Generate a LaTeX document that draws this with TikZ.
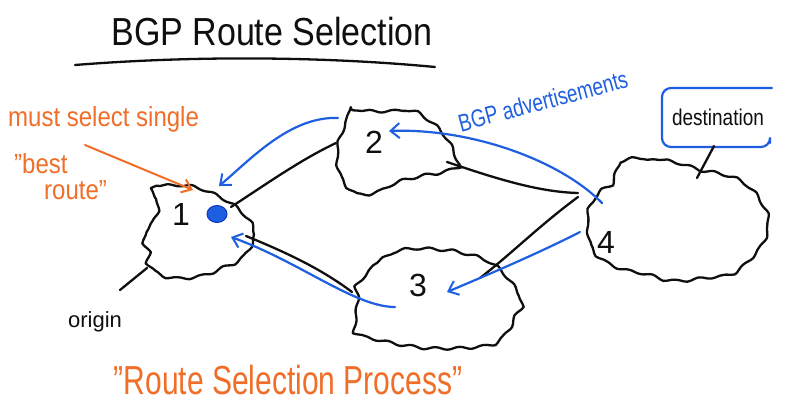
\documentclass[tikz,border=0pt]{standalone}
\usepackage{fontspec}
\setmainfont{Liberation Sans}
\usetikzlibrary{arrows.meta,decorations.pathmorphing,shapes.geometric}
\definecolor{pen}{RGB}{15,15,15}
\definecolor{ink}{RGB}{30,95,225}
\definecolor{inkdark}{RGB}{10,55,190}
\definecolor{orng}{RGB}{240,110,40}
\begin{document}
\begin{tikzpicture}[x=1pt,y=-1pt,line cap=round,line join=round,
  stroke/.style={line width=2.3pt,draw=pen},
  cloudline/.style={stroke,decorate,decoration={snake,amplitude=1.3pt,segment length=24pt}},
  bluearrow/.style={line width=2.2pt,draw=ink,-{Straight Barb[length=9pt,width=15pt,line width=2pt]}},
  orarrow/.style={line width=2pt,draw=orng,-{Straight Barb[length=9pt,width=14pt,line width=2pt]}},
  numlbl/.style={text=pen,font=\fontsize{32}{34}\selectfont,inner sep=0pt},
  blacktxt/.style={text=pen,inner sep=0pt},
  orangetxt/.style={text=orng,inner sep=0pt},
  bluetxt/.style={text=ink,inner sep=0pt}]
\useasboundingbox (0,0) rectangle (787,415);
\fill[white] (0,0) rectangle (787,415);

% title
\node[blacktxt,font=\fontsize{34}{36}\selectfont,yscale=1.15] (title) at (272,32) {BGP Route Selection};
\coordinate (ulA) at (75,65);
\coordinate (ulB) at (435,67);
\draw[stroke] (ulA) .. controls (200,55) and (330,57) .. (ulB);

% clouds
\draw[cloudline] plot[smooth cycle,tension=0.7] coordinates {(143,190) (160,186) (187,187) (213,197) (233,210) (247,227) (247,240) (240,250) (233,260) (217,267) (203,273) (187,277) (167,278) (150,273) (140,263) (140,253) (133,247) (133,233) (140,227) (147,213) (147,200)};
\draw[cloudline] plot[smooth cycle,tension=0.7] coordinates {(343,110) (362,111) (390,111) (407,110) (427,123) (440,137) (450,157) (450,167) (433,173) (410,177) (387,183) (367,193) (347,195) (337,187) (330,173) (328,153) (333,133) (340,117)};
\draw[cloudline] plot[smooth cycle,tension=0.7] coordinates {(350,290) (377,263) (400,253) (433,253) (460,257) (487,267) (507,287) (517,307) (510,322) (500,340) (483,350) (433,353) (400,350) (367,343) (350,338) (350,320) (353,305)};
\draw[cloudline] plot[smooth cycle,tension=0.7] coordinates {(617,162) (660,160) (697,170) (717,173) (740,183) (757,203) (763,223) (757,243) (743,260) (727,273) (700,277) (667,280) (640,273) (613,267) (590,253) (583,233) (583,210) (593,193) (610,181)};

\node[numlbl] (n1) at (181,214) {1};
\node[numlbl] (n2) at (374,142) {2};
\node[numlbl] (n3) at (418,285) {3};
\node[numlbl] (n4) at (606,242) {4};

% best-route dot
\node[ellipse,fill=ink,draw=inkdark,line width=1pt,minimum width=20pt,minimum height=17pt,inner sep=0pt] (dot) at (217,214) {};

% black links
\coordinate (l12a) at (231,207);
\coordinate (l12b) at (336,143);
\coordinate (l13a) at (246,236);
\coordinate (l13b) at (352,292);
\coordinate (l24a) at (447,162);
\coordinate (l24b) at (578,193);
\coordinate (l34a) at (578,197);
\coordinate (l34b) at (480,278);
\coordinate (orA) at (147,268);
\coordinate (orB) at (120,290);
\draw[stroke] (l12a) .. controls (265,185) and (300,160) .. (l12b);
\draw[stroke] (l13a) .. controls (285,252) and (320,268) .. (l13b);
\draw[stroke] (l24a) .. controls (500,180) and (540,192) .. (l24b);
\draw[stroke] (l34a) .. controls (540,225) and (510,255) .. (l34b);
\draw[stroke] (orA) -- (orB);

% destination box
\coordinate (dA) at (772,88);
\coordinate (dB) at (770,143);
\draw[line width=2.2pt,draw=ink,rounded corners=9pt] (dA) -- (662,88) -- (662,147) -- (770,147) -- (dB);
\node[blacktxt,font=\fontsize{19}{21}\selectfont,yscale=1.2] (dest) at (718,117) {destination};
\coordinate (dL1) at (714,146);
\coordinate (dL2) at (697,178);
\draw[stroke] (dL1) -- (dL2);

% blue advertisements
\coordinate (a21s) at (338,118);
\coordinate (a21e) at (219,186);
\coordinate (a42s) at (602,203);
\coordinate (a42e) at (389,131);
\coordinate (a43s) at (580,232);
\coordinate (a43e) at (447,292);
\coordinate (a31s) at (395,307);
\coordinate (a31e) at (231,237);
\draw[bluearrow] (a21s) .. controls (290,116) and (250,160) .. (a21e);
\draw[bluearrow] (a42s) .. controls (560,160) and (470,128) .. (a42e);
\draw[bluearrow] (a43s) .. controls (535,255) and (480,278) .. (a43e);
\draw[bluearrow] (a31s) .. controls (355,307) and (300,262) .. (a31e);
\node[bluetxt,font=\fontsize{19}{21}\selectfont,rotate=15,yscale=1.3] (adv) at (543,101) {BGP advertisements};

% orange annotations
\node[orangetxt,font=\fontsize{24}{26}\selectfont,anchor=base west,yscale=1.15] (must) at (8,126) {must select single};
\node[orangetxt,font=\fontsize{24}{26}\selectfont,anchor=base west,yscale=1.15] (best) at (14,173) {"best};
\node[orangetxt,font=\fontsize{24}{26}\selectfont,anchor=base west,yscale=1.15] (route) at (44,199) {route"};
\coordinate (oA) at (85,145);
\coordinate (oB) at (193,190);
\draw[orarrow] (oA) -- (oB);
\node[orangetxt,font=\fontsize{30}{32}\selectfont,yscale=1.35] (rsp) at (288,380) {"Route Selection Process"};

% origin
\node[blacktxt,font=\fontsize{22}{24}\selectfont] (origin) at (95,322) {origin};
\end{tikzpicture}
\end{document}
